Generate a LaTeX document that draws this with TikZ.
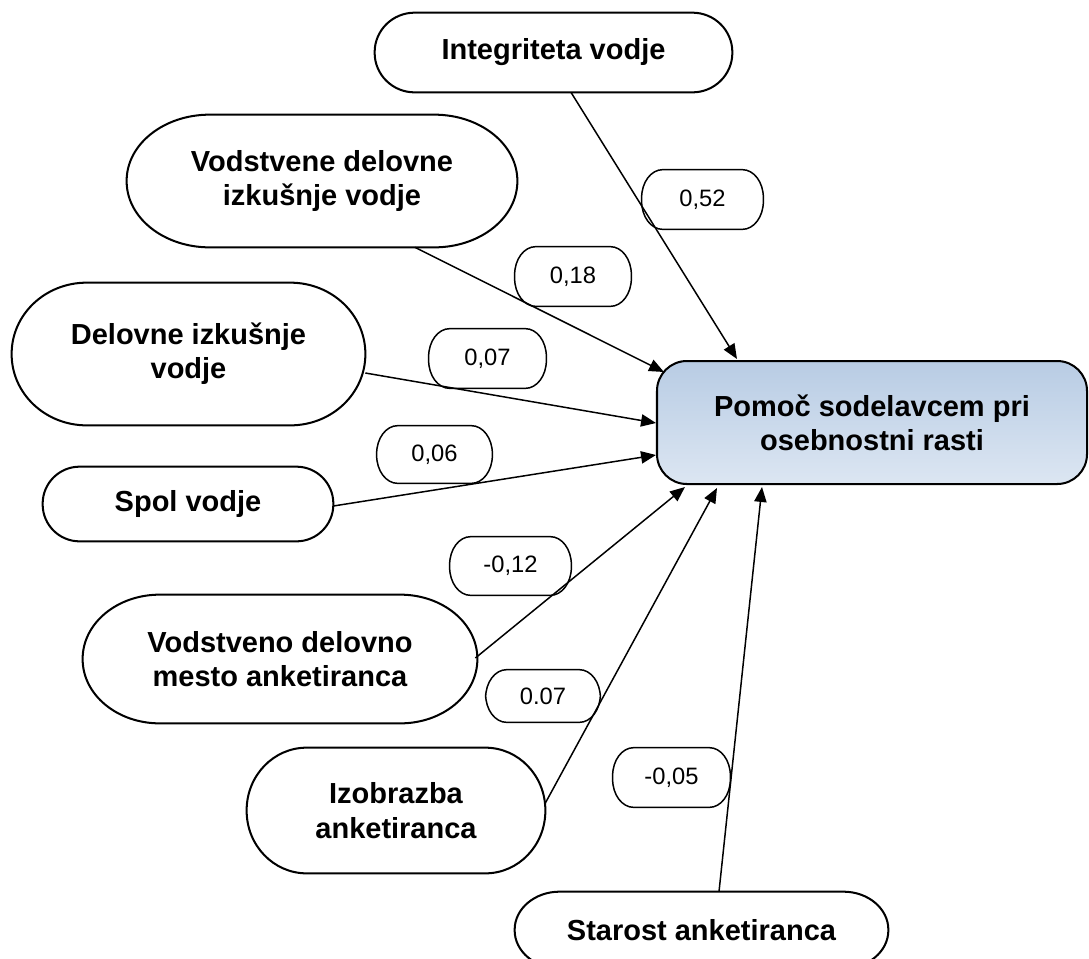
\documentclass[tikz,border=0pt]{standalone}
\usepackage{fontspec}
\setmainfont{Liberation Sans}
\usetikzlibrary{calc,arrows.meta}

\definecolor{tgttop}{HTML}{B8CCE4}
\definecolor{tgtbot}{HTML}{DCE6F2}

% outline with elliptical corners around a (borderless) node
\newcommand\capsuleframe[4]{%
  \draw[#1] ($(#2.north west)+(#3,0)$) -- ($(#2.north east)+(-#3,0)$)
    arc[start angle=90,end angle=0,x radius={#3*0.02cm},y radius={#4*0.02cm}]
    -- ($(#2.south east)+(0,#4)$)
    arc[start angle=0,end angle=-90,x radius={#3*0.02cm},y radius={#4*0.02cm}]
    -- ($(#2.south west)+(#3,0)$)
    arc[start angle=-90,end angle=-180,x radius={#3*0.02cm},y radius={#4*0.02cm}]
    -- ($(#2.north west)+(0,-#4)$)
    arc[start angle=180,end angle=90,x radius={#3*0.02cm},y radius={#4*0.02cm}] -- cycle;}

\tikzset{
  box/.style 2 args={inner sep=0pt, align=center,
    minimum width={#1*0.02cm}, minimum height={#2*0.02cm},
    font=\fontsize{16.5}{19.5}\selectfont\bfseries},
  coef/.style 2 args={inner sep=0pt, align=center,
    minimum width={#1*0.02cm}, minimum height={#2*0.02cm},
    font=\fontsize{13.5}{15}\selectfont},
  frame/.style={line width=1.15pt},
  lblframe/.style={line width=0.85pt},
  link/.style={line width=0.85pt, -{Triangle[length=8.5pt,width=7pt]}},
}

\begin{document}
\begin{tikzpicture}[x=0.02cm,y=0.02cm]
\useasboundingbox (0,0) rectangle (1089,-958);

% predictors
\node[box={357}{79}]  (int) at (553.5,-52.5) {Integriteta vodje};
\node[box={390}{132}] (vdi) at (322,-181) {Vodstvene delovne\\izkušnje vodje};
\node[box={353}{142}] (di)  at (188.5,-354) {Delovne izkušnje\\vodje};
\node[box={290}{74}]  (spol) at (188,-504) {Spol vodje};
\node[box={394}{128}] (vdm) at (280,-659) {Vodstveno delovno\\mesto anketiranca};
\node[box={298}{125}] (izo) at (396,-810.5) {Izobrazba\\anketiranca};
\node[box={373}{76}]  (sta) at (701.5,-930) {Starost anketiranca};

% outcome
\node[box={430}{123}, draw, frame, rounded corners=17pt,
      top color=tgttop, bottom color=tgtbot] (tgt) at (872,-422.5)
      {Pomoč sodelavcem pri\\osebnostni rasti};

% coefficients
\node[coef={121}{59}] (c52) at (702.5,-199.5) {0,52};
\node[coef={116}{59}] (c18) at (573,-276.5) {0,18};
\node[coef={117}{59}] (c07a) at (487.5,-358.5) {0,07};
\node[coef={115}{57}] (c06) at (434.5,-454.5) {0,06};
\node[coef={121}{58}] (c12) at (510.5,-566) {-0,12};
\node[coef={114}{52}] (c07b) at (543,-696) {0.07};
\node[coef={117}{59}] (c05) at (671.5,-777.5) {-0,05};

% frames
\capsuleframe{frame}{int}{40}{39.5}
\capsuleframe{frame}{vdi}{83}{66}
\capsuleframe{frame}{di}{75}{71}
\capsuleframe{frame}{spol}{37}{37}
\capsuleframe{frame}{vdm}{77}{64}
\capsuleframe{frame}{izo}{60}{62.5}
\capsuleframe{frame}{sta}{45}{38}
\foreach \c in {c52,c18,c07a,c06,c12,c07b,c05}{\capsuleframe{lblframe}{\c}{21}{28}}

% paths
\draw[link] ($(int.south)+(17.5,0)$) -- ($(tgt.north west)+(81,1)$);
\draw[link] ($(vdi.south)+(93,0)$) -- ($(tgt.north west)+(8,-12)$);
\draw[link] ($(di.east)+(0,-19)$) -- ($(tgt.west)+(0,-0.5)$);
\draw[link] ($(spol.east)+(0,-2)$) -- ($(tgt.west)+(0,-32.5)$);
\draw[link] ($(vdm.east)+(-2,1)$) -- ($(tgt.south west)+(29,-2)$);
\draw[link] ($(izo.east)+(0,7.5)$) -- ($(tgt.south west)+(61,-3)$);
\draw[link] ($(sta.north)+(17.5,0)$) -- ($(tgt.south west)+(106,-2)$);
\end{tikzpicture}
\end{document}
